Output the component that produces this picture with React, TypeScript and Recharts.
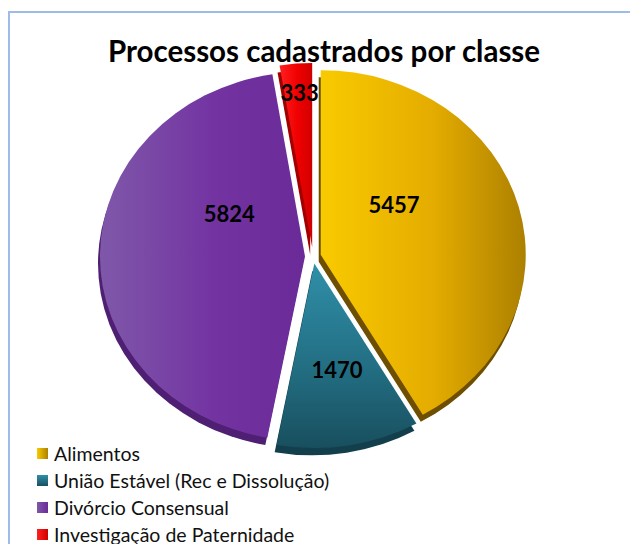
import { PieChart, Pie, Cell } from "recharts"

const categories = [
  "Alimentos",
  "União Estável (Rec e Dissolução)",
  "Divórcio Consensual",
  "Investigação de Paternidade",
]
const values = [5457, 1470, 5824, 333]
const title = "Processos cadastrados por classe"

const topColors = [
  ["#F9CA00", "#E4AC00", "#AC8000"],
  ["#2F8FA8", "#236F84", "#184F5E"],
  ["#7F58A9", "#7334A2", "#6A2B98"],
  ["#FF2020", "#F00000", "#D00000"],
]
const sideColors = ["#6E4E00", "#123F4B", "#4E1F72", "#A00000"]

const data = categories.map((name, i) => ({ name, value: values[i] }))
const total = values.reduce((a, b) => a + b, 0)

const CX = 308
const CY = 252
const R = 205
const SQUASH = 0.9
const DEPTH = 8
const RAD = Math.PI / 180

// mid angle of each slice, clockwise from 12 o'clock
const midAngles = values.map((v, i) => {
  const before = values.slice(0, i).reduce((a, b) => a + b, 0)
  return ((before + v / 2) / total) * 360
})
const explode = values.map((v) => (v / total < 0.05 ? 10 : 8))

const offsetOf = (i: number) => ({
  dx: explode[i] * Math.sin(midAngles[i] * RAD),
  dy: -explode[i] * Math.cos(midAngles[i] * RAD),
})

const makeLabel = (i: number) => (props: any) => {
  if (props.index !== i) return null
  const { cx, cy, midAngle, outerRadius, percent, value } = props
  const theta = percent * 2 * Math.PI
  const frac = theta < 0.35 ? 0.77 : theta < 1.5 ? 0.66 : 0.37
  const a = -midAngle * RAD
  const r = outerRadius * frac
  const x = cx + r * Math.cos(a)
  const lift = 12 + (Math.cos(a) < 0 ? 35 : 25) * Math.abs(Math.cos(a))
  const y = cy + r * Math.sin(a) - lift
  return (
    <text
      x={x}
      y={y}
      textAnchor="middle"
      dominantBaseline="central"
      fill="#000"
      fontFamily="Lato, 'Open Sans', sans-serif"
      fontWeight={700}
      fontSize={22}
      transform={`translate(${x} ${y}) scale(1 ${1 / SQUASH}) translate(${-x} ${-y})`}
    >
      {value}
    </text>
  )
}

export default function App() {
  return (
    <div style={{ position: "absolute", left: 0, top: 0, width: 630, height: 544, background: "#fff", overflow: "hidden" }}>
      <div
        style={{
          position: "absolute",
          left: 8,
          top: 11,
          width: 640,
          height: 560,
          borderLeft: "2px solid #9DBDE6",
          borderTop: "2px solid #9DBDE6",
        }}
      />
      <div
        style={{
          position: "absolute",
          left: 0,
          top: 0,
          width: 630,
          height: 544,
          transform: `scaleY(${SQUASH})`,
          transformOrigin: `${CX}px ${CY}px`,
        }}
      >
        <PieChart width={630} height={544}>
          <defs>
            {topColors.map((c, i) => (
              <linearGradient key={i} id={`top${i}`} x1="0" y1="0" x2={i === 1 ? "0" : "1"} y2={i === 1 ? "1" : "0"}>
                <stop offset="0%" stopColor={c[0]} />
                <stop offset="55%" stopColor={c[1]} />
                <stop offset="100%" stopColor={c[2]} />
              </linearGradient>
            ))}
          </defs>
          {/* side (thickness) layer */}
          {values.map((_, i) => {
            const { dx, dy } = offsetOf(i)
            return (
              <Pie
                key={`side${i}`}
                data={data}
                dataKey="value"
                cx={CX + dx - 2}
                cy={CY + dy + DEPTH}
                outerRadius={R}
                startAngle={90}
                endAngle={-270}
                stroke="none"
                isAnimationActive={false}
              >
                {data.map((d, j) => (
                  <Cell key={d.name} fill={j === i ? sideColors[i] : "transparent"} />
                ))}
              </Pie>
            )
          })}
          {values.map((_, i) => {
            const { dx, dy } = offsetOf(i)
            return (
              <Pie
                key={`top${i}`}
                data={data}
                dataKey="value"
                cx={CX + dx}
                cy={CY + dy}
                outerRadius={R}
                startAngle={90}
                endAngle={-270}
                stroke="none"
                label={makeLabel(i)}
                labelLine={false}
                isAnimationActive={false}
              >
                {data.map((d, j) => (
                  <Cell key={d.name} fill={j === i ? `url(#top${i})` : "transparent"} />
                ))}
              </Pie>
            )
          })}
        </PieChart>
      </div>
      <div
        style={{
          position: "absolute",
          left: 0,
          top: 33,
          width: 648,
          textAlign: "center",
          fontFamily: "Lato, 'Open Sans', sans-serif",
          fontWeight: 700,
          fontSize: 29.5,
          color: "#000",
          whiteSpace: "nowrap",
        }}
      >
        {title}
      </div>
      <div style={{ position: "absolute", left: 37, top: 440, fontFamily: "Lato, 'Open Sans', sans-serif", fontSize: 19.5, color: "#111" }}>
        {categories.map((c, i) => (
          <div key={c} style={{ display: "flex", alignItems: "center", height: 27 }}>
            <span
              style={{
                display: "inline-block",
                width: 11,
                height: 11,
                marginRight: 6,
                background: `linear-gradient(${i === 1 ? "180deg" : "90deg"}, ${topColors[i][0]}, ${topColors[i][2]})`,
              }}
            />
            {c}
          </div>
        ))}
      </div>
    </div>
  )
}
